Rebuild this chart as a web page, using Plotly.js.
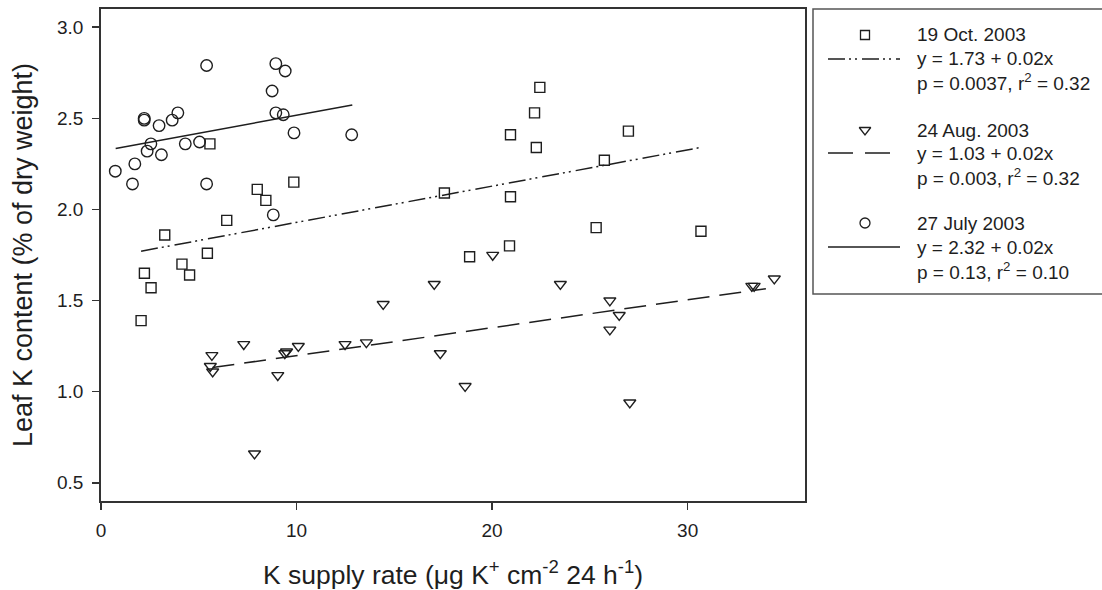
<!DOCTYPE html>
<html>
<head>
<meta charset="utf-8">
<script src="https://cdn.plot.ly/plotly-3.0.1.min.js"></script>
<style>html,body{margin:0;padding:0;background:#fff;}#chart{width:1102px;height:590px;}</style>
</head>
<body>
<div id="chart"></div>
<script>
// ---- data ----
const octX = [2.05, 2.22, 2.56, 3.26, 4.14, 4.53, 5.44, 5.57, 6.43, 7.99, 8.43, 9.86, 17.56, 18.85, 20.89, 20.94, 20.94, 22.17, 22.26, 22.44, 25.32, 25.74, 26.97, 30.68];
const octY = [1.39, 1.65, 1.57, 1.86, 1.70, 1.64, 1.76, 2.36, 1.94, 2.11, 2.05, 2.15, 2.09, 1.74, 1.80, 2.41, 2.07, 2.53, 2.34, 2.67, 1.90, 2.27, 2.43, 1.88];

const augX = [5.59, 5.67, 5.71, 7.30, 7.85, 9.04, 9.40, 9.49, 10.09, 12.48, 13.57, 14.43, 17.04, 17.35, 18.62, 20.03, 23.49, 26.02, 26.02, 26.50, 27.04, 33.28, 33.40, 34.43];
const augY = [1.14, 1.20, 1.11, 1.26, 0.66, 1.09, 1.21, 1.22, 1.25, 1.26, 1.27, 1.48, 1.59, 1.21, 1.03, 1.75, 1.59, 1.50, 1.34, 1.42, 0.94, 1.58, 1.58, 1.62];

const julX = [0.73, 1.61, 1.73, 2.21, 2.21, 2.36, 2.55, 2.97, 3.09, 3.64, 3.93, 4.31, 5.04, 5.40, 5.40, 8.75, 8.81, 8.94, 8.94, 9.32, 9.42, 9.87, 12.82];
const julY = [2.21, 2.14, 2.25, 2.50, 2.49, 2.32, 2.36, 2.46, 2.30, 2.49, 2.53, 2.36, 2.37, 2.79, 2.14, 2.65, 1.97, 2.80, 2.53, 2.52, 2.76, 2.42, 2.41];

// regression lines (oct, aug, jul)
const fitIntercept = [1.73, 1.045, 2.32];
const fitSlope = [0.0199, 0.0153, 0.0197];
const fitXStart = [2.05, 5.7, 0.75];
const fitXEnd = [30.7, 34.0, 12.85];

// legend texts
const seriesNames = ["19 Oct. 2003", "24 Aug. 2003", "27 July 2003"];
const eqTexts = ["y = 1.73 + 0.02x", "y = 1.03 + 0.02x", "y = 2.32 + 0.02x"];
const statTexts = ["p = 0.0037, r<sup>2</sup> = 0.32", "p = 0.003, r<sup>2</sup> = 0.32", "p = 0.13, r<sup>2</sup> = 0.10"];

const xTicks = [0, 10, 20, 30];
const yTicks = [0.5, 1.0, 1.5, 2.0, 2.5, 3.0];

// ---- styling ----
const INK = '#1e1e1e';
const FONT = 'Liberation Sans, Arial, sans-serif';
const symbols = ['square-open', 'triangle-down-open', 'circle-open'];
const msizes = [10, 10.5, 11.5];
const dashes = ['17px,4px,2px,4px,2px,5px', '22px,10px', 'solid'];
const W = 1102, H = 590;
const PL = 101, PR = 805, PT = 9, PB = 501;

const sx = [octX, augX, julX];
const sy = [octY, augY, julY];

const traces = [];
for (let i = 0; i < 3; i++) {
  const xs = [fitXStart[i], fitXEnd[i]];
  traces.push({
    x: xs, y: xs.map(v => fitIntercept[i] + fitSlope[i] * v),
    mode: 'lines', type: 'scatter', hoverinfo: 'skip', showlegend: false,
    line: {color: INK, width: 1.5, dash: dashes[i]}
  });
}
for (let i = 0; i < 3; i++) {
  traces.push({
    x: sx[i], y: sy[i], mode: 'markers', type: 'scatter', showlegend: false,
    marker: {symbol: symbols[i], size: msizes[i], color: INK, line: {width: 1.4, color: INK}}
  });
}

// legend (drawn in a pixel-scaled helper subplot)
const LX0 = 813, LY0 = 9, LY1 = 294;
const rowY = [[35, 59, 82], [130, 153, 177], [223, 247, 271]];
const lineEnds = [900, 890, 900];
const legDash = ['17px,4px,2px,4px,2px,5px', '25px,12px', 'solid'];
const legSize = [9, 10, 10];
const annotations = [];
for (let i = 0; i < 3; i++) {
  traces.push({
    x: [865], y: [rowY[i][0]], xaxis: 'x2', yaxis: 'y2', mode: 'markers', type: 'scatter',
    showlegend: false, hoverinfo: 'skip',
    marker: {symbol: symbols[i], size: legSize[i], color: INK, line: {width: 1.3, color: INK}}
  });
  traces.push({
    x: [828, lineEnds[i]], y: [rowY[i][1], rowY[i][1]], xaxis: 'x2', yaxis: 'y2', mode: 'lines', type: 'scatter',
    showlegend: false, hoverinfo: 'skip',
    line: {color: INK, width: 1.5, dash: legDash[i]}
  });
  const texts = [seriesNames[i], eqTexts[i], statTexts[i]];
  for (let j = 0; j < 3; j++) {
    annotations.push({
      xref: 'x2', yref: 'y2', x: 915, y: rowY[i][j], xanchor: 'left', yanchor: 'middle',
      text: texts[j], showarrow: false, font: {family: FONT, size: 19, color: INK}
    });
  }
}

const layout = {
  width: W, height: H,
  margin: {l: 0, r: 0, t: 0, b: 0},
  paper_bgcolor: '#fff', plot_bgcolor: 'rgba(0,0,0,0)',
  showlegend: false,
  font: {family: FONT, color: INK},
  xaxis: {
    domain: [PL / W, PR / W], range: [0, 36], tickvals: xTicks,
    ticks: 'outside', ticklen: 7, tickwidth: 1.5, tickcolor: '#333',
    showline: true, mirror: true, linecolor: '#333', linewidth: 1.8,
    showgrid: false, zeroline: false, ticklabelstandoff: 4,
    tickfont: {family: FONT, size: 19, color: INK},
    automargin: false,
    title: {text: 'K supply rate (\u03bcg K<sup>+</sup> cm<sup>-2</sup> 24 h<sup>-1</sup>)', font: {family: FONT, size: 26.5, color: INK}, standoff: 26}
  },
  yaxis: {
    domain: [1 - PB / H, 1 - PT / H], range: [0.4, 3.1], tickvals: yTicks, tickformat: '.1f',
    ticks: 'outside', ticklen: 7, tickwidth: 1.5, tickcolor: '#333',
    showline: true, mirror: true, linecolor: '#333', linewidth: 1.8,
    showgrid: false, zeroline: false, ticklabelstandoff: 5,
    tickfont: {family: FONT, size: 19, color: INK},
    automargin: false,
    title: {text: 'Leaf K content (% of dry weight)', font: {family: FONT, size: 27, color: INK}, standoff: 16}
  },
  xaxis2: {domain: [LX0 / W, 1], range: [LX0, W], visible: false, fixedrange: true, anchor: 'y2'},
  yaxis2: {domain: [1 - LY1 / H, 1 - LY0 / H], range: [LY1, LY0], visible: false, fixedrange: true, anchor: 'x2'},
  shapes: [{
    type: 'rect', xref: 'paper', yref: 'paper',
    x0: LX0 / W, x1: 1.01, y0: 1 - LY1 / H, y1: 1 - LY0 / H,
    line: {color: '#555', width: 1.5}, fillcolor: 'rgba(0,0,0,0)'
  }],
  annotations: annotations
};

Plotly.newPlot('chart', traces, layout, {displayModeBar: false, staticPlot: true});
</script>
</body>
</html>
